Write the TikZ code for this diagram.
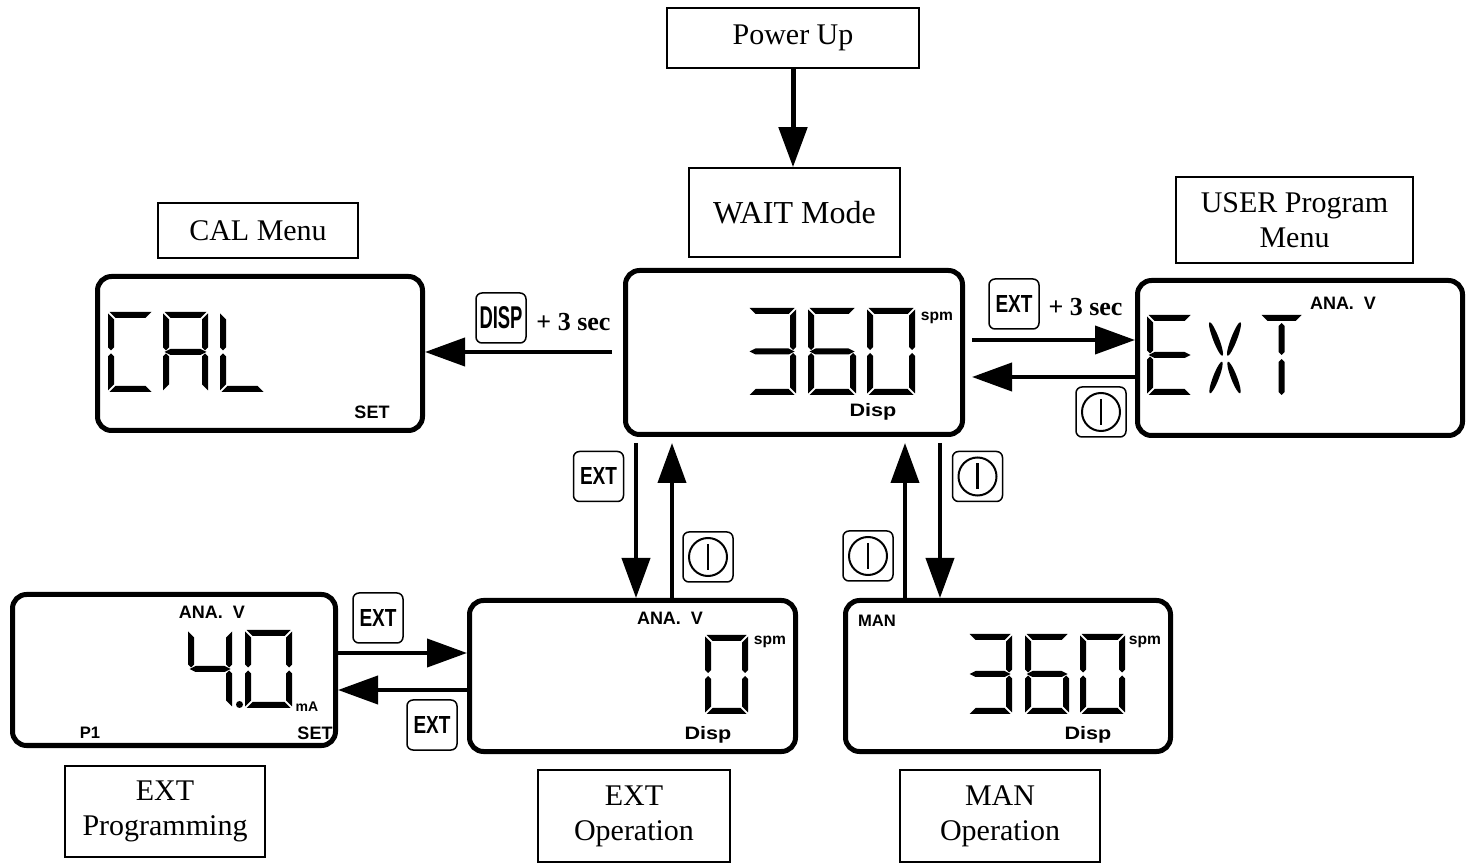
\documentclass[tikz,border=0pt]{standalone}
\usepackage{fontspec}
\setmainfont{Liberation Serif}
\setsansfont{Liberation Sans}
\usepackage{graphicx}
\usetikzlibrary{arrows.meta}
\newcommand\sgA{(\dG,0) -- ({\dW-\dG},0) -- ({\dW-\dG-\dT},\dT) -- ({\dG+\dT},\dT) -- cycle}
\newcommand\sgD{(\dG,\dH) -- ({\dW-\dG},\dH) -- ({\dW-\dG-\dT},{\dH-\dT}) -- ({\dG+\dT},{\dH-\dT}) -- cycle}
\newcommand\sgF{(0,\dG) -- (\dT,{\dG+\dT}) -- (\dT,{\dH/2-\dG-\dT/2}) -- ({\dT/2},{\dH/2-\dG}) -- (0,{\dH/2-\dG-\dT/2}) -- cycle}
\newcommand\sgB{(\dW,\dG) -- ({\dW-\dT},{\dG+\dT}) -- ({\dW-\dT},{\dH/2-\dG-\dT/2}) -- ({\dW-\dT/2},{\dH/2-\dG}) -- (\dW,{\dH/2-\dG-\dT/2}) -- cycle}
\newcommand\sgE{(0,{\dH-\dG}) -- (\dT,{\dH-\dG-\dT}) -- (\dT,{\dH/2+\dG+\dT/2}) -- ({\dT/2},{\dH/2+\dG}) -- (0,{\dH/2+\dG+\dT/2}) -- cycle}
\newcommand\sgC{(\dW,{\dH-\dG}) -- ({\dW-\dT},{\dH-\dG-\dT}) -- ({\dW-\dT},{\dH/2+\dG+\dT/2}) -- ({\dW-\dT/2},{\dH/2+\dG}) -- (\dW,{\dH/2+\dG+\dT/2}) -- cycle}
\newcommand\sgG{(\dG,{\dH/2}) -- ({\dG+\dT},{\dH/2-\dT/2}) -- ({\dW-\dG-\dT},{\dH/2-\dT/2}) -- ({\dW-\dG},{\dH/2}) -- ({\dW-\dG-\dT},{\dH/2+\dT/2}) -- ({\dG+\dT},{\dH/2+\dT/2}) -- cycle}
\newcommand\digit[6]{%
  \begin{scope}[shift={(#1,#2)}]
    \def\dW{#3}\def\dH{#4}\def\dT{#5}\def\dG{1.5}
    \foreach \s in {#6}{\expandafter\fill\csname sg\s\endcsname;}
  \end{scope}}
\tikzset{
  lcd/.style={draw, line width=2.5pt, rounded corners=7pt, inner sep=0pt},
  lbl/.style={draw, line width=0.8pt, inner sep=0pt, align=center, font=\fontsize{15}{17.5}\selectfont},
  key/.style={draw, line width=0.75pt, rounded corners=3pt, minimum width=25pt, minimum height=25pt, inner sep=0pt},
  pwr/.style={key, path picture={
      \draw[line width=1pt] (path picture bounding box.center) circle[radius=9.5pt];
      \draw[line width=1.4pt] ([yshift=6.5pt]path picture bounding box.center) -- ([yshift=-6.5pt]path picture bounding box.center);}},
  arr/.style={line width=2pt, -{Triangle[length=20pt,width=14pt]}},
  st/.style={font=\sffamily\bfseries\fontsize{9}{10}\selectfont, inner sep=0pt},
  spmst/.style={font=\sffamily\bfseries\fontsize{7.8}{9}\selectfont, inner sep=0pt},
  sm/.style={font=\sffamily\bfseries\fontsize{7}{8}\selectfont, inner sep=0pt},
  sec/.style={font=\bfseries\fontsize{13}{15}\selectfont, inner sep=0pt},
}
\newcommand\keytext[3]{\resizebox{#1}{#2}{\sffamily\bfseries #3}}
\newcommand\disptext{\scalebox{1.2}[1]{Disp}}
\begin{document}
\begin{tikzpicture}[x=0.5pt,y=-0.5pt]
\useasboundingbox (0,0) rectangle (1473,865);

% label boxes
\node[lbl, minimum width=126pt, minimum height=30pt] (pu) at (793,38) {Power Up};
\node[lbl, minimum width=105.5pt, minimum height=44.5pt, font=\fontsize{16}{19}\selectfont] (wait) at (794.5,212.5) {WAIT Mode};
\node[lbl, minimum width=100pt, minimum height=27.5pt] (calmenu) at (258,230.5) {CAL Menu};
\node[lbl, minimum width=118.5pt, minimum height=43pt] (usermenu) at (1294.5,220) {USER Program\\Menu};
\node[lbl, minimum width=100pt, minimum height=45.5pt] (extprog) at (165,811.5) {EXT\\Programming};
\node[lbl, minimum width=96pt, minimum height=46pt] (extoplbl) at (634,816) {EXT\\Operation};
\node[lbl, minimum width=100pt, minimum height=46pt] (manoplbl) at (1000,816) {MAN\\Operation};

% displays
\node[lcd, minimum width=168.5pt, minimum height=82pt] (main) at (794,352.5) {};
\node[lcd, minimum width=162.5pt, minimum height=77pt] (cal) at (260,353.5) {};
\node[lcd, minimum width=162.5pt, minimum height=77.5pt] (user) at (1300,358) {};
\node[lcd, minimum width=161.5pt, minimum height=75.5pt] (p1) at (174,670) {};
\node[lcd, minimum width=163pt, minimum height=75.5pt] (extop) at (632.5,676) {};
\node[lcd, minimum width=162.5pt, minimum height=75.5pt] (man) at (1008,676) {};

% main 360
\digit{748}{308}{48}{87}{6}{A,B,C,D,G}
\digit{808}{308}{48}{87}{6}{A,C,D,E,F,G}
\digit{867}{308}{48}{87}{6}{A,B,C,D,E,F}
\node[spmst] (mspm) at (937,318) {spm};
\node[st] (mdisp) at (873,412) {\disptext};

% CAL
\digit{108}{312}{45}{80}{6}{A,D,E,F}
\digit{163}{312}{45}{80}{6}{A,B,C,E,F,G}
\digit{220}{312}{45}{80}{6}{D,E,F}
\node[st] (calset) at (372,412) {SET};

% EXT (user)
\digit{1147}{315}{45}{80}{6}{A,D,E,F,G}
\fill[rotate around={21:(1216,339)}] (1216,339) ellipse [x radius=3, y radius=18];
\fill[rotate around={-21:(1234,339)}] (1234,339) ellipse [x radius=3, y radius=18];
\fill[rotate around={-21:(1216,377.5)}] (1216,377.5) ellipse [x radius=3, y radius=17];
\fill[rotate around={21:(1234,377.5)}] (1234,377.5) ellipse [x radius=3, y radius=17];
\digit{1260}{315}{43}{80}{6}{A}
\fill (1281.5,323) -- (1284.5,326) -- (1284.5,352) -- (1281.5,355) -- (1278.5,352) -- (1278.5,326) -- cycle;
\fill (1281.5,359) -- (1284.5,362) -- (1284.5,392) -- (1281.5,395) -- (1278.5,392) -- (1278.5,362) -- cycle;
\node[st] (uana) at (1343,303) {ANA.\ \ V};

% P1 4.0
\digit{188}{630}{44}{78}{6}{B,C,F,G}
\digit{245}{630}{47}{78}{6}{A,B,C,D,E,F}
\fill (239.5,704.5) circle[radius=3.5];
\node[st] (pana) at (212,612) {ANA.\ \ V};
\node[sm] (pma) at (307,707) {mA};
\node[st, font=\sffamily\bfseries\fontsize{8.3}{10}\selectfont] (pp1) at (90,733) {P1};
\node[st] (pset) at (315,733) {SET};

% EXT op 0
\digit{705}{635}{43}{79}{6}{A,B,C,D,E,F}
\node[st] (eana) at (670,618) {ANA.\ \ V};
\node[spmst] (espm) at (770,642) {spm};
\node[st] (edisp) at (708,735) {\disptext};

% MAN 360
\digit{968}{634}{44}{80}{6}{A,B,C,D,G}
\digit{1025}{634}{44}{80}{6}{A,C,D,E,F,G}
\digit{1080}{634}{45}{80}{6}{A,B,C,D,E,F}
\node[st, font=\sffamily\bfseries\fontsize{8.3}{10}\selectfont] (mman) at (877,621) {MAN};
\node[spmst] (manspm) at (1145,642) {spm};
\node[st] (mandisp) at (1088,735) {\disptext};

% keys
\node[key] (kdisp) at (501,318) {\keytext{21.5pt}{11pt}{DISP}};
\node[sec] (s1) at (573.5,322) {+ 3 sec};
\node[key] (kext1) at (1014,304) {\keytext{18.5pt}{8.5pt}{EXT}};
\node[sec] (s2) at (1085.5,307) {+ 3 sec};
\node[pwr] (kp1) at (1101,412) {};
\node[key] (kext2) at (598.5,476.5) {\keytext{18.5pt}{8.5pt}{EXT}};
\node[pwr] (kp2) at (708,557) {};
\node[pwr] (kp3) at (977.5,476.5) {};
\node[pwr] (kp4) at (868,556) {};
\node[key] (kext3) at (378,618) {\keytext{18.5pt}{8.5pt}{EXT}};
\node[key] (kext4) at (432,725) {\keytext{18.5pt}{8.5pt}{EXT}};

% arrows
\draw[arr, line width=2.5pt] (pu.south) -- (pu.south |- wait.north);
\coordinate (c1) at (612,352);
\draw[arr] (c1) -- (cal.east |- c1);
\coordinate (c2) at (972,340);
\draw[arr] (c2) -- (user.west |- c2);
\coordinate (c3) at (972,377);
\draw[arr] (user.west |- c3) -- (c3);
\coordinate (c4) at (636,443);
\draw[arr] (c4) -- (c4 |- extop.north);
\coordinate (c5) at (672,443);
\draw[arr] (c5 |- extop.north) -- (c5);
\coordinate (c6) at (905,443);
\draw[arr] (c6 |- man.north) -- (c6);
\coordinate (c7) at (940,443);
\draw[arr] (c7) -- (c7 |- man.north);
\draw[arr] (p1.east |- 0,653) -- (extop.west |- 0,653);
\draw[arr] (extop.west |- 0,690) -- (p1.east |- 0,690);
\end{tikzpicture}
\end{document}
